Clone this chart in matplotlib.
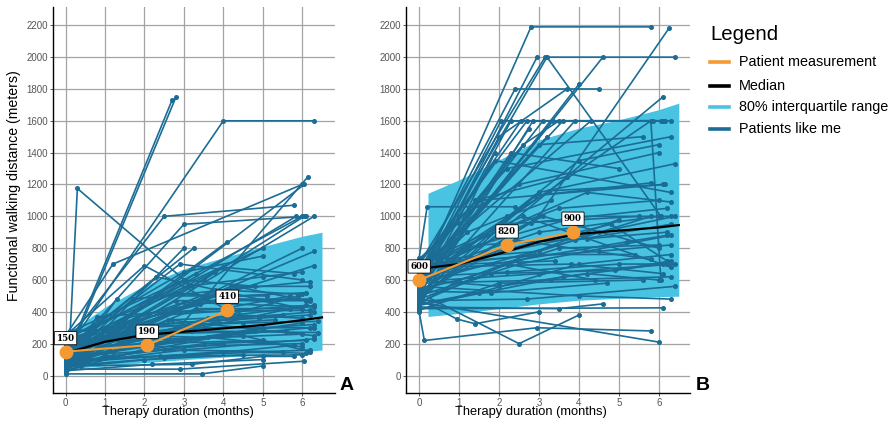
import matplotlib
matplotlib.use("Agg")
import matplotlib.pyplot as plt
from matplotlib.lines import Line2D

plt.rcParams['font.family'] = ['Liberation Sans', 'DejaVu Sans']

# ---------------- data ----------------
months_ticks = [0, 1, 2, 3, 4, 5, 6]
dist_ticks = [0, 200, 400, 600, 800, 1000, 1200, 1400, 1600, 1800, 2000, 2200]

# Panel A
a_patient_t = [0, 2.07, 4.1]
a_patient_v = [150, 190, 410]
a_median_t = [0, 1, 2, 3, 4, 5, 6, 6.5]
a_median_v = [140, 212, 255, 275, 296, 317, 348, 365]
a_band_t = [0, 0.2, 1, 2, 3, 4, 5, 6, 6.5]
a_band_lo = [40, 45, 60, 80, 100, 115, 130, 150, 160]
a_band_hi = [260, 290, 430, 565, 670, 740, 810, 875, 900]
a_patients = [
    [(0, 150), (4.0, 1600), (6.3, 1600)],
    [(0, 100), (2.7, 1730)],
    [(0, 80), (2.8, 1750)],
    [(0.1, 180), (0.3, 1175), (3.2, 560)],
    [(0, 200), (2.5, 1000), (5.8, 1070)],
    [(0, 120), (3.0, 950), (6.1, 1000)],
    [(0, 60), (6.05, 1200)],
    [(0, 250), (1.2, 700), (6.0, 1200)],
    [(0, 90), (2.6, 220), (6.15, 1250)],
    [(0, 130), (5.85, 1000)],
    [(0, 200), (6.0, 1000)],
    [(0, 100), (3.5, 600), (6.05, 1000)],
    [(0, 60), (6.3, 1000)],
    [(0, 40), (3.0, 800)],
    [(0, 160), (3.25, 800)],
    [(0, 90), (4.1, 840)],
    [(0, 230), (5.0, 800)],
    [(0, 70), (6.0, 800)],
    [(0, 120), (6.3, 780)],
    [(0, 200), (6.3, 690)],
    [(0, 150), (2.9, 700), (6.0, 600)],
    [(0, 100), (1.7, 480), (6.2, 590)],
    [(0, 220), (3.0, 650), (5.0, 750)],
    [(0, 180), (4.0, 680), (5.8, 640)],
    [(0, 50), (2.3, 500), (5.1, 500)],
    [(0, 110), (4.3, 560), (6.1, 470)],
    [(0, 90), (3.8, 650)],
    [(0, 250), (2.0, 690), (4.2, 400)],
    [(0, 10), (3.45, 10), (5.0, 60)],
    [(0, 40), (2.9, 40), (6.05, 90)],
    [(0, 30), (2.2, 70), (5.0, 100)],
    [(0, 60), (3.2, 70), (5.0, 120), (5.8, 120)],
    [(0, 80), (4.0, 150), (6.1, 140)],
    [(0, 120), (2.5, 160), (5.5, 150)],
    [(0, 100), (6.2, 160)],
    [(0, 140), (3.0, 230), (6.0, 260)],
    [(0, 200), (3.5, 300), (6.3, 300)],
    [(0, 60), (4.0, 250), (6.2, 300)],
    [(0, 170), (2.0, 300), (5.3, 350)],
    [(0, 90), (3.3, 420), (6.0, 420)],
    [(0, 130), (2.5, 380), (6.1, 440)],
    [(0, 50), (1.5, 200), (5.9, 500)],
    [(0, 210), (3.0, 460), (6.3, 430)],
    [(0, 70), (4.4, 380), (6.0, 360)],
    [(0, 240), (2.8, 520), (5.2, 460)],
    [(0, 160), (1.0, 300), (4.0, 480), (6.2, 480)],
    [(0, 110), (5.0, 300), (6.3, 320)],
    [(0, 30), (2.2, 180), (6.0, 200)],
    [(0, 80), (3.5, 200), (6.1, 220)],
    [(0, 190), (2.2, 320), (4.9, 360), (6.2, 380)],
    [(0, 140), (3.8, 540), (6.0, 510)],
    [(0, 260), (3.0, 600), (4.8, 560)],
    [(0, 100), (3.1, 560), (5.0, 620), (6.0, 650)],
    [(0, 50), (2.6, 350), (6.3, 250)],
    [(0, 150), (1.3, 250), (3.6, 240), (6.0, 180)],
    [(0, 200), (4.5, 250), (6.2, 150)],
    [(0, 120), (5.7, 420)],
    [(0, 60), (0.8, 370), (4.0, 420), (5.7, 500)],
    [(0, 180), (2.0, 200), (5.0, 220)],
    [(0, 90), (2.4, 120), (6.0, 130)],
    [(0, 230), (3.4, 450)],
    [(0, 70), (4.2, 560), (6.2, 560)],
    [(0, 130), (3.3, 640)],
    [(0, 40), (1.3, 480)],
    [(0, 160), (2.3, 620), (6.0, 420)],
    [(0, 20), (1.2, 150), (4.8, 280)],
    [(0, 110), (6.0, 330)],
    [(0, 270), (6.3, 400)],
    [(0, 80), (0.5, 150), (3.0, 300)],
    [(0, 130), (0.7, 200), (2.7, 350), (5.5, 380)],
    [(0, 50), (1.0, 120), (4.0, 200)],
    [(0, 180), (0.4, 220), (3.9, 330)],
    [(0, 90), (1.2, 300), (4.5, 330), (6.4, 340)],
    [(0, 40), (0.6, 90), (3.0, 160), (6.3, 230)],
    [(0, 140), (1.8, 260), (5.6, 280)],
    [(0, 60), (2.0, 100), (4.5, 130)],
    [(0, 200), (1.5, 360), (4.3, 500), (6.1, 520)],
    [(0, 100), (2.8, 470), (6.2, 470)],
    [(0, 70), (1.6, 230), (3.2, 280), (6.4, 270)],
    [(0, 150), (0.9, 260), (2.9, 400), (6.2, 410)],
    [(0, 30), (0.4, 60), (2.5, 110), (5.8, 190)],
    [(0, 120), (1.1, 180), (3.6, 360), (6.3, 440)],
]

# Panel B
b_patient_t = [0, 2.2, 3.85]
b_patient_v = [600, 820, 900]
b_median_t = [0, 1, 2, 3, 4, 5, 6, 6.5]
b_median_v = [670, 700, 765, 840, 890, 910, 930, 945]
b_band_t = [0.22, 1, 2, 3, 4, 5, 6, 6.5]
b_band_lo = [371, 390, 420, 450, 473, 485, 495, 498]
b_band_hi = [1145, 1229, 1355, 1480, 1554, 1606, 1670, 1711]
b_patients = [
    [(0, 600), (2.8, 2190), (5.8, 2190)],
    [(0, 500), (3.0, 1000), (6.25, 2180)],
    [(0, 560), (2.95, 2000)],
    [(0, 700), (3.15, 2000), (6.4, 2000)],
    [(0, 620), (3.2, 2000), (6.05, 1000)],
    [(0, 550), (4.6, 2000)],
    [(0, 650), (2.4, 1800), (4.5, 1800)],
    [(0, 540), (4.0, 1830)],
    [(0, 480), (6.1, 1750)],
    [(0, 600), (2.05, 1600), (6.3, 1600)],
    [(0, 520), (2.3, 1600), (6.15, 1600)],
    [(0, 660), (2.55, 1600), (6.05, 1600)],
    [(0, 700), (2.7, 1600)],
    [(0, 450), (2.85, 1600), (5.85, 1600)],
    [(0, 610), (3.1, 1600)],
    [(0, 570), (3.35, 1600)],
    [(0, 630), (3.6, 1600), (6.1, 1600)],
    [(0, 500), (3.9, 1600)],
    [(0, 680), (4.3, 1600)],
    [(0, 530), (2.75, 1550)],
    [(0, 590), (3.2, 1500)],
    [(0, 640), (3.0, 1450), (5.6, 1500)],
    [(0, 420), (1.9, 1400)],
    [(0, 560), (4.0, 1350), (6.0, 1450)],
    [(0, 720), (2.2, 1300), (6.3, 1500)],
    [(0, 470), (3.0, 1150), (6.4, 1330)],
    [(0, 600), (1.5, 1100), (6.1, 1200)],
    [(0, 640), (3.25, 1160), (6.15, 1200)],
    [(0, 510), (2.9, 1130), (5.8, 1210)],
    [(0, 690), (4.2, 1150), (6.3, 1090)],
    [(0, 740), (0.2, 1060), (2.4, 1060)],
    [(0, 400), (0.13, 220), (2.95, 300), (5.8, 280)],
    [(0, 520), (2.5, 200), (4.0, 380)],
    [(0, 460), (6.0, 210)],
    [(0, 430), (3.5, 420), (4.6, 450)],
    [(0, 420), (6.1, 425)],
    [(0, 480), (0.94, 355), (1.4, 325), (3.0, 400)],
    [(0, 733), (1.0, 960)],
    [(0, 600), (2.0, 950), (5.5, 1000)],
    [(0, 550), (1.2, 800), (4.0, 1000), (6.3, 1000)],
    [(0, 650), (3.0, 900), (6.0, 1000)],
    [(0, 500), (2.5, 700), (6.3, 880)],
    [(0, 450), (1.0, 600), (3.5, 800), (6.0, 820)],
    [(0, 700), (4.5, 780), (6.3, 820)],
    [(0, 620), (2.2, 650), (5.0, 700), (6.2, 700)],
    [(0, 580), (3.3, 600), (6.3, 620)],
    [(0, 530), (1.8, 520), (4.7, 580)],
    [(0, 470), (2.7, 480), (6.4, 560)],
    [(0, 680), (3.8, 700), (6.1, 640)],
    [(0, 560), (4.0, 500), (6.3, 480)],
    [(0, 410), (2.0, 580), (5.6, 600)],
    [(0, 640), (3.1, 1000), (6.0, 800)],
    [(0, 590), (1.6, 750), (4.5, 900), (6.4, 1000)],
    [(0, 510), (2.4, 850), (5.8, 730)],
    [(0, 660), (4.8, 950), (6.2, 720)],
    [(0, 440), (3.6, 620), (6.1, 700)],
    [(0, 700), (2.6, 1000), (6.3, 680)],
    [(0, 490), (1.1, 700), (3.4, 720)],
    [(0, 620), (5.2, 840), (6.2, 880)],
    [(0, 600), (2.0, 560), (4.2, 640), (6.0, 600)],
    [(0, 540), (1.3, 620), (5.0, 980)],
    [(0, 720), (3.0, 780), (5.8, 1000)],
    [(0, 460), (2.2, 700), (4.4, 600)],
    [(0, 580), (3.9, 850), (6.3, 950)],
    [(0, 650), (1.7, 880), (3.5, 1050), (6.0, 1100)],
    [(0, 530), (2.8, 960), (6.2, 1050)],
    [(0, 600), (1.0, 1000), (2.5, 1200), (6.0, 1400)],
    [(0, 500), (1.4, 1100), (3.7, 1250)],
    [(0, 560), (2.3, 1400), (5.0, 1300)],
    [(0, 620), (1.9, 1350), (6.3, 1150)],
    [(0, 680), (2.6, 1450), (3.5, 1600)],
    [(0, 600), (5.8, 1600), (6.05, 600)],
    [(0, 570), (2.0, 1500), (3.7, 1800)],
    [(0, 610), (1.2, 900), (2.2, 1000), (3.3, 1100)],
    [(0, 450), (1.5, 520), (4.0, 700), (6.3, 760)],
    [(0, 520), (0.6, 600), (3.0, 640), (6.4, 700)],
    [(0, 560), (0.8, 700), (2.9, 760), (5.4, 760)],
    [(0, 640), (1.5, 820), (4.2, 860), (6.2, 900)],
    [(0, 480), (1.8, 640), (4.9, 660), (6.3, 720)],
]

legend_title = "Legend"
legend_labels = ["Patient measurement", "Median", "80% interquartile range", "Patients like me"]

# ---------------- style ----------------
C_BAND = "#49C3E2"
C_LINE = "#1B6D95"
C_ORANGE = "#F59A33"
C_GRID = "#a3a3a3"

W, H = 894, 422
fig = plt.figure(figsize=(W / 100, H / 100), dpi=100)
axA = fig.add_axes([53.3 / W, 1 - 392.7 / H, (335 - 53.3) / W, (392.7 - 7.3) / H])
axB = fig.add_axes([406 / W, 1 - 392.7 / H, (690 - 406) / W, (392.7 - 7.3) / H])


def draw(ax, band_t, lo, hi, patients, med_t, med_v, pt_t, pt_v, xlim, xlab_cx, ylabel):
    ax.fill_between(band_t, lo, hi, color=C_BAND, lw=0, zorder=1)
    for p in patients:
        ts = [q[0] for q in p]
        vs = [q[1] for q in p]
        ax.plot(ts, vs, color=C_LINE, lw=1.2, marker="o", ms=2.6, zorder=2)
    ax.plot(med_t, med_v, color="black", lw=1.6, zorder=3)
    ax.plot(pt_t, pt_v, color=C_ORANGE, lw=1.5, marker="o", ms=9, zorder=4)
    for t, v in zip(pt_t, pt_v):
        ax.text(t, v + 85, str(v), ha="center", va="center", fontsize=6.2,
                fontweight="bold", family="DejaVu Serif", zorder=5,
                bbox=dict(boxstyle="round,pad=0.25,rounding_size=0.1",
                          fc="white", ec="black", lw=0.6))
    ax.set_xlim(*xlim)
    ax.set_ylim(-108, 2313)
    ax.set_xticks(months_ticks)
    ax.set_yticks(dist_ticks)
    ax.grid(True, color=C_GRID, lw=0.9, zorder=0)
    ax.set_axisbelow(True)
    for s in ["top", "right"]:
        ax.spines[s].set_visible(False)
    for s in ["left", "bottom"]:
        ax.spines[s].set_color("black")
        ax.spines[s].set_linewidth(1.0)
    ax.tick_params(axis="both", labelsize=7, colors="#555555", length=2.5,
                   width=0.7, pad=1.2)
    ax.set_xlabel("Therapy duration (months)", fontsize=9.3)
    ax.xaxis.set_label_coords(xlab_cx / W, 1 - 412.5 / H, transform=fig.transFigure)
    ax.xaxis.label.set_va("center")
    if ylabel:
        ax.set_ylabel("Functional walking distance (meters)", fontsize=10.2)
        ax.yaxis.set_label_coords(14 / W, 1 - 185.5 / H, transform=fig.transFigure)
        ax.yaxis.label.set_va("center")


draw(axA, a_band_t, a_band_lo, a_band_hi, a_patients, a_median_t, a_median_v,
     a_patient_t, a_patient_v, (-0.31, 6.83), 178, True)
draw(axB, b_band_t, b_band_lo, b_band_hi, b_patients, b_median_t, b_median_v,
     b_patient_t, b_patient_v, (-0.33, 6.78), 531, False)

fig.text(347 / W, 1 - 385 / H, "A", fontsize=14, fontweight="bold",
         ha="center", va="center")
fig.text(703 / W, 1 - 385 / H, "B", fontsize=14, fontweight="bold",
         ha="center", va="center")

# legend drawn in figure pixel positions
fig.text(710 / W, 1 - 35 / H, legend_title, fontsize=14.7, ha="left", va="center")
leg_colors = [C_ORANGE, "black", C_BAND, C_LINE]
leg_y = [62, 86, 107, 129]
for lab, col, yy in zip(legend_labels, leg_colors, leg_y):
    fig.add_artist(Line2D([710 / W, 729 / W], [1 - yy / H, 1 - yy / H],
                          color=col, lw=2.6, transform=fig.transFigure))
    fig.text(739 / W, 1 - yy / H, lab, fontsize=10.4, ha="left", va="center")

fig.savefig("out.png", dpi=100)
